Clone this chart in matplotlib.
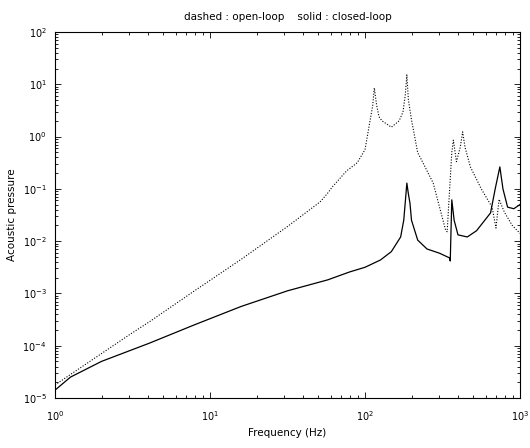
import numpy as np
import matplotlib
matplotlib.use("Agg")
import matplotlib.pyplot as plt

# Open-loop (dotted) curve: log10(freq), log10(pressure)
open_logf = [0.0, 0.2, 0.48, 0.61, 0.9, 1.2, 1.5, 1.71, 1.76, 1.79, 1.88, 1.95,
             2.0, 2.03, 2.05, 2.06, 2.075, 2.09, 2.11, 2.17, 2.22, 2.245, 2.26,
             2.27, 2.28, 2.30, 2.34, 2.355, 2.44, 2.52, 2.53, 2.56, 2.57, 2.59,
             2.615, 2.63, 2.645, 2.68, 2.75, 2.82, 2.845, 2.865, 2.9, 2.95, 3.0]
open_logp = [-4.75, -4.35, -3.79, -3.54, -2.95, -2.35, -1.72, -1.25, -1.08, -0.96,
             -0.66, -0.5, -0.25, 0.26, 0.6, 0.93, 0.6, 0.38, 0.3, 0.18, 0.3, 0.47,
             0.8, 1.18, 0.7, 0.32, -0.31, -0.39, -0.89, -1.79, -1.82, -0.3, -0.07,
             -0.48, -0.2, 0.09, -0.2, -0.58, -1.0, -1.35, -1.75, -1.2, -1.45,
             -1.7, -1.85]

# Closed-loop (solid) curve
closed_logf = [0.0, 0.1, 0.3, 0.61, 0.9, 1.2, 1.5, 1.76, 1.90, 2.0, 2.10, 2.17,
               2.23, 2.25, 2.26, 2.27, 2.28, 2.29, 2.30, 2.34, 2.40, 2.48, 2.545,
               2.55, 2.56, 2.575, 2.60, 2.66, 2.72, 2.81, 2.84, 2.87, 2.89, 2.92,
               2.96, 3.0]
closed_logp = [-4.85, -4.6, -4.3, -3.95, -3.6, -3.25, -2.95, -2.74, -2.59, -2.5,
               -2.36, -2.2, -1.92, -1.6, -1.25, -0.89, -1.1, -1.27, -1.6, -1.98,
               -2.15, -2.23, -2.32, -2.38, -1.21, -1.6, -1.88, -1.92, -1.8, -1.46,
               -1.0, -0.58, -1.0, -1.35, -1.38, -1.3]

x_ticks = [1, 10, 100, 1000]
y_ticks = [1e-5, 1e-4, 1e-3, 1e-2, 1e-1, 1e0, 1e1, 1e2]

f_open = 10.0 ** np.array(open_logf)
p_open = 10.0 ** np.array(open_logp)
f_closed = 10.0 ** np.array(closed_logf)
p_closed = 10.0 ** np.array(closed_logp)

plt.rcParams['font.size'] = 7
fig = plt.figure(figsize=(5.3, 4.48), dpi=100)
ax = fig.add_axes([55/530, 1-398/448, (520-55)/530, (398-32)/448])

ax.loglog(f_open, p_open, color='black', linestyle=(0, (1, 1.5)), linewidth=0.8)
ax.loglog(f_closed, p_closed, color='black', linestyle='-', linewidth=0.9)

ax.set_xlim(1, 1000)
ax.set_ylim(1e-5, 1e2)
ax.set_xticks(x_ticks)
ax.set_yticks(y_ticks)
ax.set_xlim(1, 1000)
ax.set_ylim(1e-5, 1e2)
ax.tick_params(which='both', direction='in', top=True, right=True, width=0.6)
ax.tick_params(which='major', length=4)
ax.tick_params(which='minor', length=2)
ax.tick_params(axis='x', which='major', pad=8)
ax.tick_params(axis='y', which='major', pad=6)
for s in ax.spines.values():
    s.set_linewidth(0.8)

ax.set_title('dashed : open-loop    solid : closed-loop', fontsize=7.5, pad=9)
ax.set_xlabel('Frequency (Hz)', fontsize=7.5, labelpad=4)
ax.set_ylabel('Acoustic pressure', fontsize=7.5, labelpad=4)

fig.savefig('out.png', dpi=100)
